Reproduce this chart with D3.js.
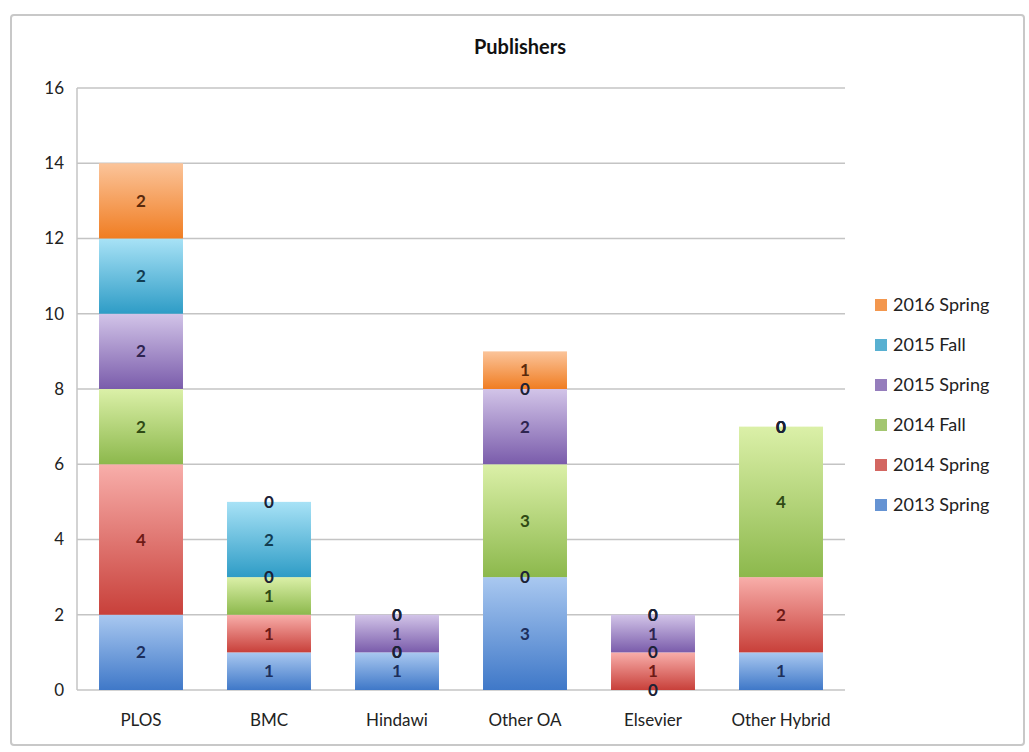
<!DOCTYPE html>
<html>
<head>
<meta charset="utf-8">
<script src="https://cdn.jsdelivr.net/npm/d3@7"></script>
<style>
  body { margin: 0; background: #fff; }
  text { font-family: Lato, "Open Sans", sans-serif; }
</style>
</head>
<body>
<svg id="chart" width="1029" height="752"></svg>
<script>
const publishers = ['PLOS', 'BMC', 'Hindawi', 'Other OA', 'Elsevier', 'Other Hybrid'];
const terms = ['2013 Spring', '2014 Spring', '2014 Fall', '2015 Spring', '2015 Fall', '2016 Spring'];
const spring2013 = [2, 1, 1, 3, 0, 1];
const spring2014 = [4, 1, 0, 0, 1, 2];
const fall2014   = [2, 1, 0, 3, 0, 4];
const spring2015 = [2, 0, 1, 2, 1, 0];
const fall2015   = [2, 2, 0, 0, 0, 0];
const spring2016 = [2, 0, 0, 1, 0, 0];
const yTicks = [0, 2, 4, 6, 8, 10, 12, 14, 16];

const series = [spring2013, spring2014, fall2014, spring2015, fall2015, spring2016];
const rows = publishers.map((p, i) => {
	const r = { publisher: p };
	terms.forEach((t, j) => r[t] = series[j][i]);
	return r;
});

// top colour, bottom colour, label colour
const palette = {
	'2013 Spring': ['#a9c8f0', '#3f78c8', '#1d2f5c'],
	'2014 Spring': ['#f8aeaa', '#c8403a', '#6e1a16'],
	'2014 Fall':   ['#dbf0a8', '#8cb84c', '#2f4a14'],
	'2015 Spring': ['#d2c4e8', '#7a5cab', '#2e2450'],
	'2015 Fall':   ['#a8e2f6', '#2e9cc6', '#123d52'],
	'2016 Spring': ['#fbc49a', '#f07d22', '#5a2a0c'],
};

const svg = d3.select('#chart');
const margin = { left: 77, right: 184, top: 88, bottom: 62 };
const width = 1029, height = 752;

// frame
svg.append('rect')
	.attr('x', 11).attr('y', 15).attr('width', 1013).attr('height', 730)
	.attr('fill', '#fff').attr('stroke', '#c8c8c8').attr('stroke-width', 2).attr('rx', 3);

const defs = svg.append('defs');
terms.forEach((t, i) => {
	const g = defs.append('linearGradient')
		.attr('id', 'grad' + i)
		.attr('x1', 0).attr('y1', 0).attr('x2', 0).attr('y2', 1);
	g.append('stop').attr('offset', '0%').attr('stop-color', palette[t][0]);
	g.append('stop').attr('offset', '100%').attr('stop-color', palette[t][1]);
});

const x = d3.scaleBand()
	.domain(publishers)
	.range([margin.left, width - margin.right])
	.paddingInner(0.344)
	.paddingOuter(0.172);

const y = d3.scaleLinear()
	.domain([0, 16])
	.range([height - margin.bottom, margin.top]);

// grid
svg.append('g').selectAll('line')
	.data(yTicks)
	.join('line')
	.attr('x1', margin.left).attr('x2', width - margin.right)
	.attr('y1', d => y(d)).attr('y2', d => y(d))
	.attr('stroke', '#c4c4c4').attr('stroke-width', 1.5);

svg.append('line')
	.attr('x1', margin.left).attr('x2', margin.left)
	.attr('y1', y(16)).attr('y2', y(0))
	.attr('stroke', '#c4c4c4').attr('stroke-width', 1.5);

// y labels
svg.append('g').selectAll('text')
	.data(yTicks)
	.join('text')
	.attr('x', 64).attr('y', d => y(d))
	.attr('dy', '0.35em')
	.attr('text-anchor', 'end')
	.attr('font-size', 17)
	.attr('fill', '#222')
	.text(d => d);

// x labels
svg.append('g').selectAll('text')
	.data(publishers)
	.join('text')
	.attr('x', d => x(d) + x.bandwidth() / 2)
	.attr('y', 726)
	.attr('text-anchor', 'middle')
	.attr('font-size', 17)
	.attr('fill', '#222')
	.text(d => d);

const stacked = d3.stack().keys(terms)(rows);

const layers = svg.append('g').selectAll('g')
	.data(stacked)
	.join('g')
	.attr('fill', (d, i) => `url(#grad${i})`);

layers.selectAll('rect')
	.data(d => d)
	.join('rect')
	.attr('x', d => x(d.data.publisher))
	.attr('width', x.bandwidth())
	.attr('y', d => y(d[1]))
	.attr('height', d => y(d[0]) - y(d[1]));

// value labels (zeros sit on the segment edge, as in the original)
const labels = svg.append('g');
stacked.forEach(layer => {
	labels.append('g').selectAll('text')
		.data(layer)
		.join('text')
		.attr('x', d => x(d.data.publisher) + x.bandwidth() / 2)
		.attr('y', d => y((d[0] + d[1]) / 2))
		.attr('dy', '0.36em')
		.attr('text-anchor', 'middle')
		.attr('font-size', 17)
		.attr('font-weight', 'bold')
		.attr('fill', d => (d[1] - d[0]) === 0 ? '#1b2236' : palette[layer.key][2])
		.text(d => d[1] - d[0]);
});

// title
svg.append('text')
	.attr('x', 520).attr('y', 54)
	.attr('text-anchor', 'middle')
	.attr('font-size', 20)
	.attr('font-weight', 'bold')
	.attr('fill', '#111')
	.text('Publishers');

// legend
const legendItems = terms.slice().reverse();
const legend = svg.append('g').selectAll('g')
	.data(legendItems)
	.join('g')
	.attr('transform', (d, i) => `translate(875, ${305 + i * 40})`);

legend.append('rect')
	.attr('x', 0).attr('y', -6).attr('width', 12).attr('height', 12)
	.attr('fill', d => palette[d][1])
	.attr('opacity', 0.8);

legend.append('text')
	.attr('x', 18).attr('y', 0).attr('dy', '0.36em')
	.attr('font-size', 18)
	.attr('fill', '#222')
	.text(d => d);
</script>
</body>
</html>
